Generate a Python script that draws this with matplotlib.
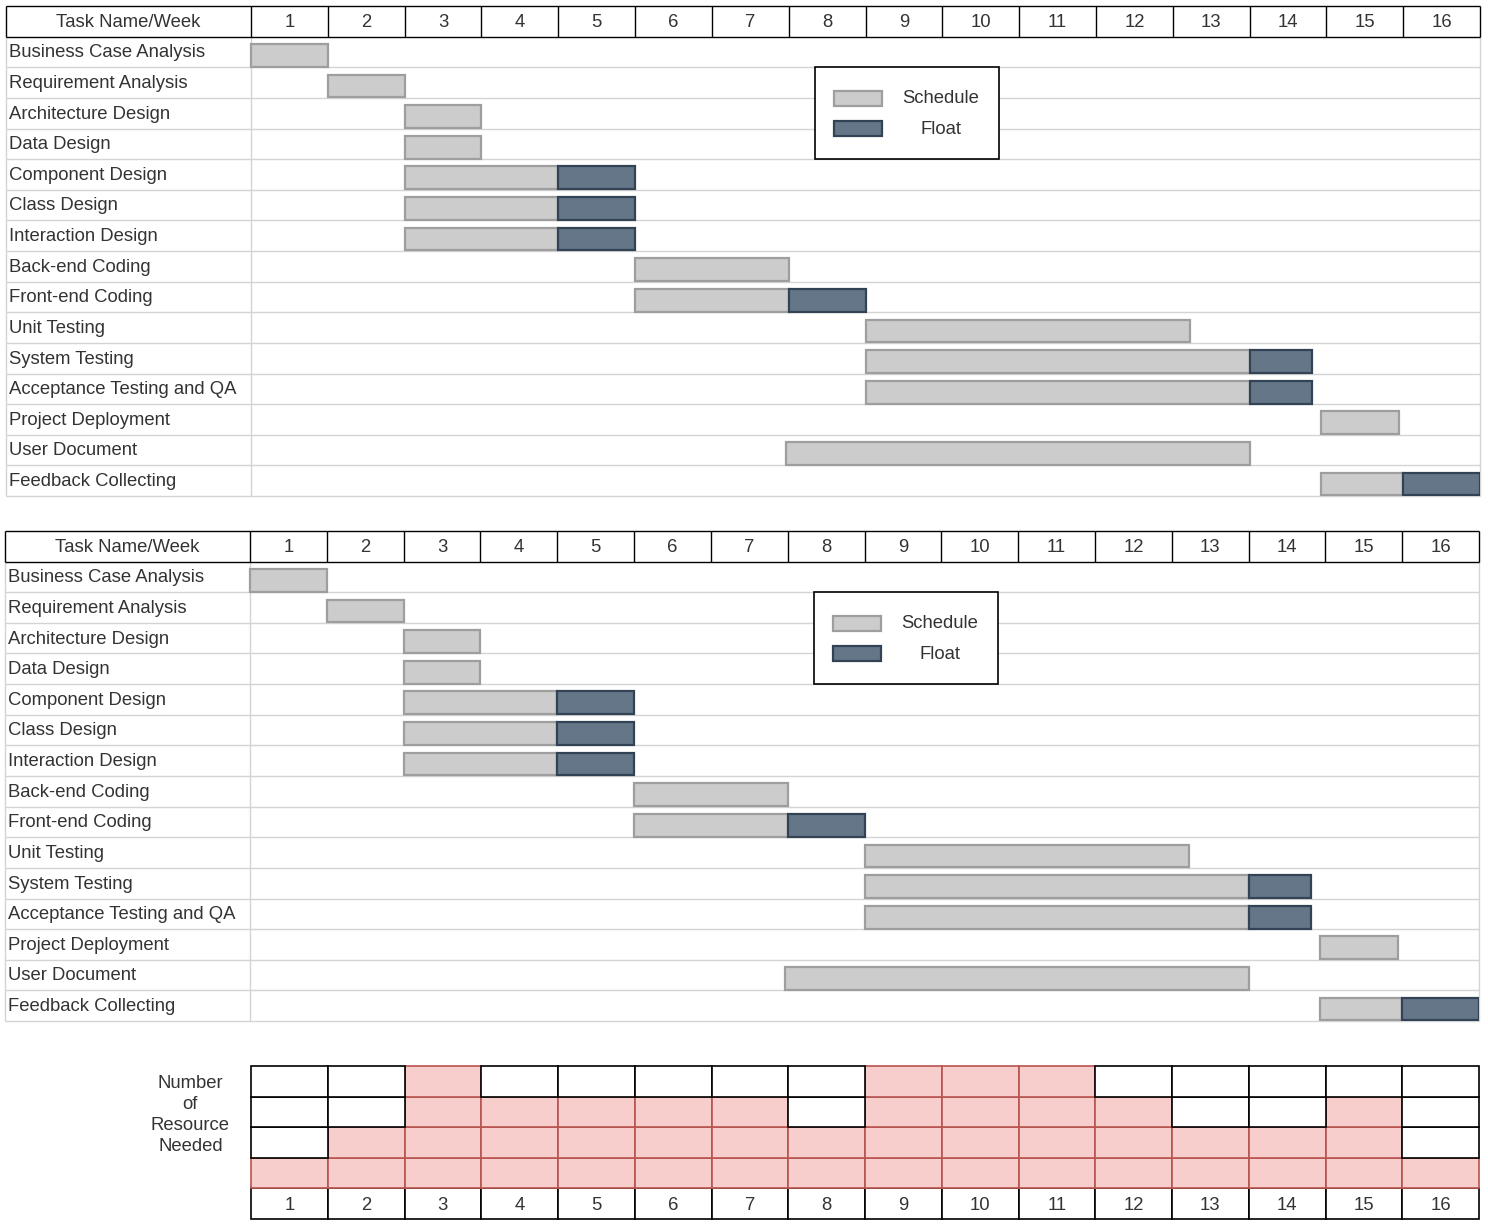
import matplotlib.pyplot as plt
from matplotlib.patches import Rectangle

plt.rcParams['font.family'] = ['Liberation Sans', 'DejaVu Sans']

# gantt data (weeks, 0 = start of week 1)
tasks = ['Business Case Analysis', 'Requirement Analysis', 'Architecture Design',
         'Data Design', 'Component Design', 'Class Design', 'Interaction Design',
         'Back-end Coding', 'Front-end Coding', 'Unit Testing', 'System Testing',
         'Acceptance Testing and QA', 'Project Deployment', 'User Document',
         'Feedback Collecting']
sched_start = [0, 1, 2, 2, 2, 2, 2, 5, 5, 8, 8, 8, 13.93, 6.97, 13.93]
sched_dur = [1, 1, 1, 1, 2, 2, 2, 2, 2, 4.22, 5, 5, 1.02, 6.04, 1.07]
float_dur = [0, 0, 0, 0, 1, 1, 1, 0, 1, 0, 0.81, 0.81, 0, 0, 1]
weeks = list(range(1, 17))

# resources needed per week
resources = [1, 2, 4, 3, 3, 3, 3, 2, 4, 4, 4, 3, 2, 2, 3, 1]

SCHED_FILL, SCHED_EDGE = '#cccccc', '#9e9e9e'
FLOAT_FILL, FLOAT_EDGE = '#647687', '#314354'
GRID = '#d4d4d4'
TXT = '#333333'
FS = 13.3
NAME_W = 245 / 76.8  # width of task name column in weeks


def draw_gantt(ax):
    n = len(tasks)
    ax.set_xlim(-NAME_W, 16)
    ax.set_ylim(n, -1)
    ax.axis('off')

    # row lines
    ax.hlines(range(1, n + 1), -NAME_W, 16, color=GRID, lw=1, clip_on=False, zorder=1)
    ax.vlines([-NAME_W, 0, 16], 0, n, color=GRID, lw=1, clip_on=False, zorder=1)
    # header
    ax.hlines([-1, 0], -NAME_W, 16, color='black', lw=1, clip_on=False, zorder=3)
    ax.vlines([-NAME_W] + list(range(0, 17)), -1, 0, color='black', lw=1,
              clip_on=False, zorder=3)
    ax.text(-NAME_W / 2, -0.47, 'Task Name/Week', ha='center', va='center',
            fontsize=FS, color=TXT)
    for i, w in enumerate(weeks):
        ax.text(i + 0.5, -0.47, str(w), ha='center', va='center', fontsize=FS,
                color=TXT)

    ys = [i + 0.61 for i in range(n)]
    ax.barh(ys, sched_dur, left=sched_start, height=0.74, color=SCHED_FILL,
            edgecolor=SCHED_EDGE, lw=1.6, zorder=4)
    fl_left = [s + d for s, d in zip(sched_start, sched_dur)]
    ax.barh(ys, float_dur, left=fl_left, height=0.74, color=FLOAT_FILL,
            edgecolor=[FLOAT_EDGE if f > 0 else 'none' for f in float_dur],
            lw=1.6, zorder=4)

    for i, t in enumerate(tasks):
        ax.text(-NAME_W + 0.04, i + 0.53, t, ha='left', va='center', fontsize=FS,
                color=TXT)

    # legend box
    ax.add_patch(Rectangle((7.34, 1.0), 2.4, 3.0, fc='white', ec='black', lw=1.2,
                           zorder=5))
    ax.add_patch(Rectangle((7.59, 1.77), 0.62, 0.48, fc=SCHED_FILL, ec=SCHED_EDGE,
                           lw=1.6, zorder=6))
    ax.add_patch(Rectangle((7.59, 2.77), 0.62, 0.48, fc=FLOAT_FILL, ec=FLOAT_EDGE,
                           lw=1.6, zorder=6))
    ax.text(8.98, 2.03, 'Schedule', ha='center', va='center', fontsize=FS,
            color=TXT, zorder=7)
    ax.text(8.98, 3.03, 'Float', ha='center', va='center', fontsize=FS,
            color=TXT, zorder=7)


fig = plt.figure(figsize=(14.88, 12.30), dpi=100)
W, H = 1488, 1230

ax1 = fig.add_axes([6 / W, 1 - 496 / H, 1474 / W, 490 / H])
draw_gantt(ax1)
ax2 = fig.add_axes([5 / W, 1 - 1021 / H, 1474 / W, 490 / H])
draw_gantt(ax2)

# resource chart
ax3 = fig.add_axes([251 / W, 1 - 1219 / H, 1228 / W, 153 / H])
ax3.set_xlim(0, 16)
ax3.set_ylim(-1, 4)
ax3.axis('off')
x = [i + 0.5 for i in range(16)]
ax3.bar(x, [1] * 16, bottom=-1, width=1, color='white', edgecolor='black', lw=1.2,
        clip_on=False, zorder=2)
for k in range(4):
    filled = [i for i in range(16) if resources[i] > k]
    ax3.bar([x[i] for i in filled], [1] * len(filled), bottom=k, width=1,
            color='#f8cecc', edgecolor='#b85450', lw=1.2, clip_on=False, zorder=3)
for k in range(4):
    empty = [i for i in range(16) if resources[i] <= k]
    ax3.bar([x[i] for i in empty], [1] * len(empty), bottom=k, width=1,
            color='white', edgecolor='black', lw=1.2, clip_on=False, zorder=4)
for i, w in enumerate(weeks):
    ax3.text(x[i], -0.55, str(w), ha='center', va='center', fontsize=FS,
             color=TXT, zorder=5)
ax3.text(-0.79, 2.4, 'Number\nof\nResource\nNeeded', ha='center', va='center',
         fontsize=FS, color=TXT, linespacing=1.3)

fig.savefig('out.png', dpi=100, facecolor='white')
